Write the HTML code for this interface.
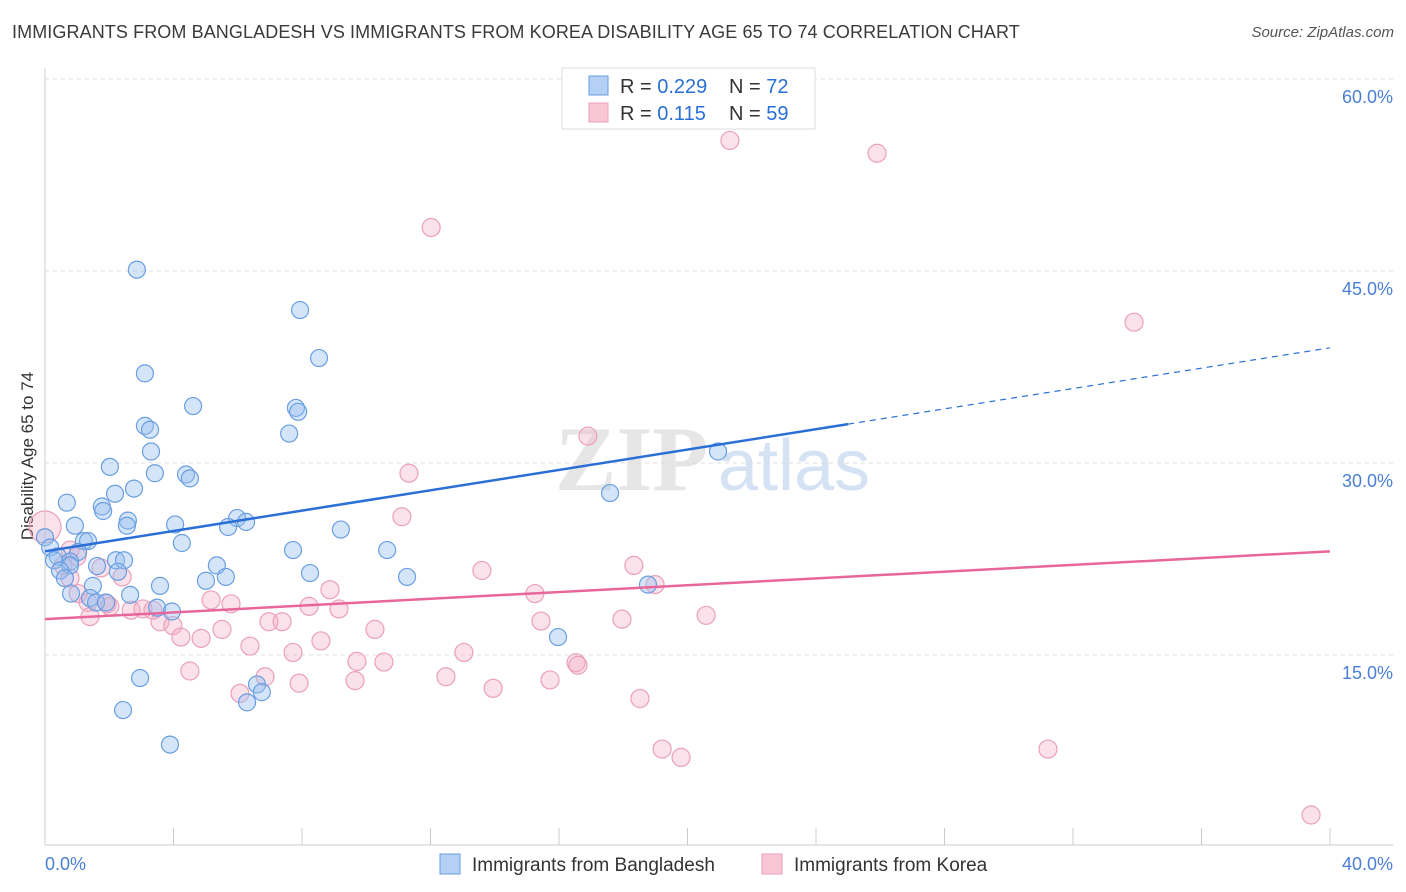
<!DOCTYPE html>
<html><head><meta charset="utf-8">
<style>
body{margin:0;background:#fff;font-family:"Liberation Sans",sans-serif;}
#wrap{position:relative;width:1406px;height:892px;overflow:hidden;}
.title{position:absolute;left:12px;top:22px;font-size:18px;color:#3a3a3a;letter-spacing:0.1px}
.source{position:absolute;right:12px;top:24px;font-size:15px;color:#555;font-style:italic}
</style></head><body>
<div id="wrap">
<div class="title">IMMIGRANTS FROM BANGLADESH VS IMMIGRANTS FROM KOREA DISABILITY AGE 65 TO 74 CORRELATION CHART</div>
<div class="source">Source: ZipAtlas.com</div>
<svg id="svg" width="1406" height="892" style="position:absolute;left:0;top:0"></svg>
</div>
<script>
const blueX=[2.86,7.94,8.53,3.11,4.61,7.81,7.88,7.60,3.11,3.27,3.30,2.02,3.42,4.39,4.51,2.77,2.18,0.68,1.77,1.81,5.98,6.26,2.58,2.55,0.93,4.05,5.70,9.21,4.26,1.21,1.34,1.03,7.72,10.65,0,0.16,0.40,0.78,1.62,2.21,2.46,0.28,0.78,5.35,0.47,8.25,2.27,11.27,5.63,5.01,0.62,1.49,3.58,0.81,1.40,2.65,1.59,1.90,3.49,3.95,17.59,20.95,18.77,15.97,2.96,6.60,6.75,6.29,2.43,3.89];
const blueY=[45.1,41.95,38.2,37.0,34.45,34.3,34.0,32.3,32.9,32.6,30.9,29.7,29.2,29.1,28.8,28.0,27.6,26.9,26.6,26.25,25.7,25.4,25.5,25.1,25.1,25.2,25.0,24.8,23.75,23.9,23.9,23.05,23.2,23.2,24.2,23.4,22.7,22.3,21.95,22.4,22.4,22.4,22.0,22.0,21.6,21.4,21.5,21.1,21.1,20.8,21.0,20.4,20.4,19.8,19.45,19.7,19.1,19.1,18.7,18.4,27.65,30.9,20.5,16.4,13.2,12.7,12.1,11.3,10.7,8.0];
const pinkX=[21.32,25.9,12.02,33.9,16.9,11.33,11.11,0,0.78,1.0,0.56,1.74,2.4,13.6,18.33,15.25,18.99,8.87,5.17,5.79,8.22,9.15,0.78,1.03,1.34,1.93,2.68,3.05,3.36,3.58,3.98,2.02,1.40,5.51,4.23,4.86,6.97,7.38,8.59,10.27,15.44,17.96,20.58,6.38,7.72,13.04,9.71,10.55,16.53,16.59,4.51,6.85,7.91,9.65,12.48,15.72,13.95,6.07,18.52,19.21,19.8,31.22,39.41];
const pinkY=[55.2,54.2,48.4,41.0,32.1,29.2,25.8,25.0,23.2,22.7,22.0,21.8,21.1,21.6,22.0,19.8,20.5,20.1,19.3,19.0,18.8,18.6,21.0,19.8,19.1,19.0,18.5,18.6,18.5,17.6,17.3,18.8,18.0,17.0,16.4,16.3,17.6,17.6,16.1,17.0,17.65,17.8,18.1,15.7,15.2,15.2,14.5,14.45,14.4,14.2,13.75,13.3,12.8,13.0,13.3,13.05,12.4,12.0,11.6,7.65,7.0,7.65,2.5];
const blueTrend=[23.1,39.0];
const pinkTrend=[17.8,23.1];
const yTicks=[15,30,45,60];
const xTickCount=10;

const NS="http://www.w3.org/2000/svg";
const svg=document.getElementById('svg');
const X0=45,X1=1330,Y0=847,YS=12.8;
const sx=v=>X0+(v/40)*(X1-X0);
const sy=v=>Y0-v*YS;
function mk(t,a,p){const e=document.createElementNS(NS,t);for(const k in a)e.setAttribute(k,a[k]);(p||svg).appendChild(e);return e;}

// watermark
let wm=mk('text',{x:555,y:490,'font-size':92,fill:'#e6e6e6','font-family':'Liberation Serif, serif','font-weight':'bold'});wm.textContent='ZIP';


let wm2=mk('text',{x:718,y:490,'font-size':72,fill:'#d4e2f3','font-family':'Liberation Sans, sans-serif'});wm2.textContent='atlas';



// grid
yTicks.forEach(t=>{
  const g=mk('line',{x1:X0,x2:1393,y1:sy(t),y2:sy(t),stroke:'#dcdcdc','stroke-dasharray':'4,4'});
  
  
  const l=mk('text',{x:1393,y:sy(t)+24,'text-anchor':'end','font-size':18,fill:'#4a7fd4'});l.textContent=t.toFixed(1)+'%';
  
  
});
// axes
let ax=mk('line',{x1:X0,x2:1393,y1:845,y2:845,stroke:'#ccc'});


let ay=mk('line',{x1:X0,x2:X0,y1:68,y2:845,stroke:'#ccc'});


for(let i=0;i<=xTickCount;i++){
  const x=sx(i*40/xTickCount);
  const t=mk('line',{x1:x,x2:x,y1:828,y2:845,stroke:'#ccc'});
  
  
}
let xl0=mk('text',{x:45,y:870,'font-size':18,fill:'#4a7fd4'});xl0.textContent='0.0%';


let xl1=mk('text',{x:1393,y:870,'text-anchor':'end','font-size':18,fill:'#4a7fd4'});xl1.textContent='40.0%';


let yt=mk('text',{x:33,y:456,'text-anchor':'middle','font-size':17,fill:'#333',transform:'rotate(-90 33 456)'});yt.textContent='Disability Age 65 to 74';



// points
pinkX.forEach((v,i)=>{
  const r=(i===7)?16:9;
  const c=mk('circle',{cx:sx(v),cy:sy(pinkY[i]),r:r,fill:'rgba(244,170,196,0.35)',stroke:'#eaa0bb','stroke-width':1.2});
  
  
});
blueX.forEach((v,i)=>{
  const c=mk('circle',{cx:sx(v),cy:sy(blueY[i]),r:8.5,fill:'rgba(150,190,240,0.4)',stroke:'#6a9ee0','stroke-width':1.2});
  
  
});
// trend lines
const bEnd=25;
const bAt=x=>blueTrend[0]+(blueTrend[1]-blueTrend[0])*x/40;
let bl=mk('line',{x1:sx(0),y1:sy(bAt(0)),x2:sx(bEnd),y2:sy(bAt(bEnd)),stroke:'#2a6fd6','stroke-width':2.5});


let bd=mk('line',{x1:sx(bEnd),y1:sy(bAt(bEnd)),x2:sx(40),y2:sy(bAt(40)),stroke:'#2a6fd6','stroke-width':1.2,'stroke-dasharray':'6,5'});


let pl=mk('line',{x1:sx(0),y1:sy(pinkTrend[0]),x2:sx(40),y2:sy(pinkTrend[1]),stroke:'#e8679a','stroke-width':2.5});



// top legend
const lg=mk('g',{});


mk('rect',{x:562,y:68,width:253,height:61,fill:'#fff',stroke:'#ddd'},lg);
mk('rect',{x:589,y:76,width:19,height:19,fill:'#b5d0f5',stroke:'#6a9ee0'},lg);
mk('rect',{x:589,y:103,width:19,height:19,fill:'#f9c6d6',stroke:'#eaa0bb'},lg);
[[93,'0.229','72'],[120,' 0.115','59']].forEach(r=>{
  const t=mk('text',{x:620,y:r[0],'font-size':20,fill:'#333'},lg);
  t.innerHTML='R = <tspan fill="#2a6fd6">'+r[1]+'</tspan>';
  const n=mk('text',{x:729,y:r[0],'font-size':20,fill:'#333'},lg);
  n.innerHTML='N = <tspan fill="#2a6fd6">'+r[2]+'</tspan>';
});
// bottom legend
const bl2=mk('g',{});


mk('rect',{x:440,y:854,width:20,height:20,fill:'#b5d0f5',stroke:'#6a9ee0'},bl2);
let t1=mk('text',{x:472,y:871,'font-size':19,fill:'#333'},bl2);t1.textContent='Immigrants from Bangladesh';
mk('rect',{x:762,y:854,width:20,height:20,fill:'#f9c6d6',stroke:'#eaa0bb'},bl2);
let t2=mk('text',{x:794,y:871,'font-size':19,fill:'#333'},bl2);t2.textContent='Immigrants from Korea';
</script>
</body></html>
